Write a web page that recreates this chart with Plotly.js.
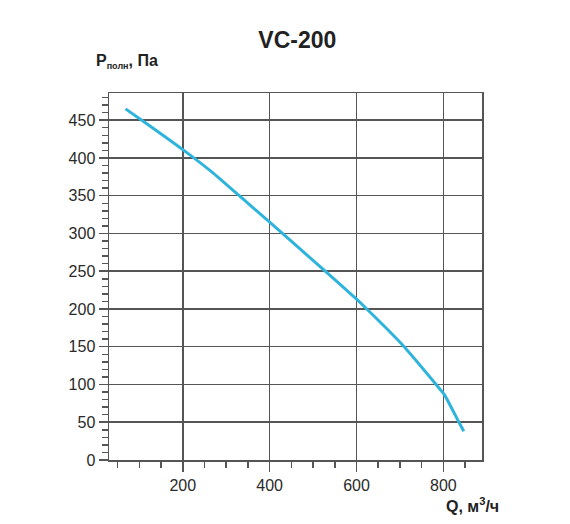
<!DOCTYPE html>
<html>
<head>
<meta charset="utf-8">
<script src="https://cdn.plot.ly/plotly-3.0.1.min.js"></script>
<style>
  html, body { margin: 0; padding: 0; background: #fff; }
  #chart { width: 570px; height: 524px; }
</style>
</head>
<body>
<div id="chart"></div>
<script>
// VC-200 fan curve: total pressure vs air flow
var flow = [68, 108, 200, 270, 328, 400, 524, 600, 622, 705, 789, 803, 835, 847];
var pressure = [465, 449, 411, 380, 351, 315, 252, 213, 201, 153, 96, 86, 51, 38];

var xTicks = [200, 400, 600, 800];
var yTicks = [0, 50, 100, 150, 200, 250, 300, 350, 400, 450];

var gridColor = '#555';
var fontFamily = 'Liberation Sans, Arial, sans-serif';
var textFont = { family: fontFamily, size: 16, color: '#2a2a2a' };

var trace = {
  x: flow,
  y: pressure,
  mode: 'lines',
  line: { color: '#2eb4dc', width: 3, shape: 'spline', smoothing: 0.5 },
  hoverinfo: 'skip'
};

var layout = {
  width: 570,
  height: 524,
  margin: { l: 109, r: 88, t: 93, b: 64 },
  paper_bgcolor: '#fff',
  plot_bgcolor: '#fff',
  showlegend: false,
  font: textFont,
  title: {
    text: '<b>VC-200</b>',
    font: { family: fontFamily, size: 23, color: '#222' },
    x: 0.505, xanchor: 'center', xref: 'paper',
    y: 0.923, yanchor: 'middle'
  },
  xaxis: {
    range: [30, 889],
    tickvals: xTicks,
    ticks: 'outside', ticklen: 10, tickwidth: 1.5, tickcolor: gridColor,
    showline: true, linecolor: gridColor, linewidth: 1.5, mirror: true,
    showgrid: true, gridcolor: gridColor, gridwidth: 1.5,
    zeroline: false,
    tickfont: textFont,
    minor: { dtick: 50, tick0: 0, ticks: 'outside', ticklen: 6, tickwidth: 1.5, tickcolor: gridColor, showgrid: false }
  },
  yaxis: {
    range: [0, 486],
    tickvals: yTicks,
    ticks: 'outside', ticklen: 9, tickwidth: 1.5, tickcolor: gridColor,
    showline: true, linecolor: gridColor, linewidth: 1.5, mirror: true,
    showgrid: true, gridcolor: gridColor, gridwidth: 1.5,
    zeroline: false,
    tickfont: textFont,
    minor: { dtick: 10, tick0: 0, ticks: 'outside', ticklen: 6, tickwidth: 1.5, tickcolor: gridColor, showgrid: false }
  },
  annotations: [
    {
      text: '<b>P<sub><span style="font-size:9px">полн</span></sub>, Па</b>',
      xref: 'paper', yref: 'paper',
      x: -0.04, y: 1.055, xanchor: 'left', yanchor: 'bottom',
      showarrow: false,
      font: { family: fontFamily, size: 16, color: '#222' }
    },
    {
      text: '<b>Q, м<sup>3</sup>/ч</b>',
      xref: 'paper', yref: 'paper',
      x: 1.05, y: -0.09, xanchor: 'right', yanchor: 'top',
      showarrow: false,
      font: { family: fontFamily, size: 16, color: '#222' }
    }
  ]
};

window.addEventListener('load', function () {
  Plotly.newPlot('chart', [trace], layout, { displayModeBar: false, staticPlot: true });
});
</script>
</body>
</html>
